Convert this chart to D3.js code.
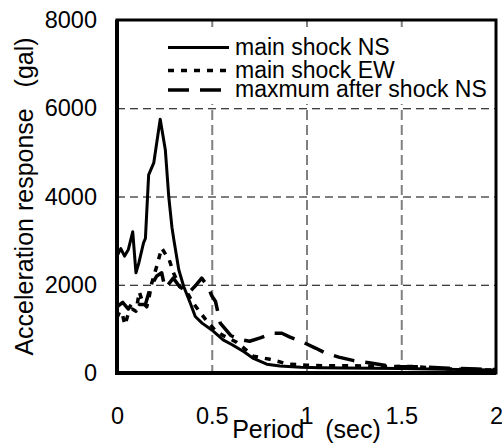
<!DOCTYPE html>
<html>
<head>
<meta charset="utf-8">
<script src="https://cdn.jsdelivr.net/npm/d3@7"></script>
<style>
  body { margin: 0; background: #fff; }
  svg { display: block; font-family: "Liberation Sans", Arial, sans-serif; }
</style>
</head>
<body>
<svg width="502" height="445"></svg>
<script>
// Values
const nsPeriod = [0, 0.02, 0.04, 0.06, 0.083, 0.10, 0.115, 0.14, 0.15, 0.167, 0.194, 0.228, 0.255, 0.273, 0.29, 0.30, 0.326, 0.352, 0.387, 0.413, 0.449, 0.5, 0.56, 0.61, 0.67, 0.72, 0.79, 0.86, 0.97, 1.07, 1.2, 1.35, 1.5, 1.65, 1.8, 2.0]
const nsValue = [2650, 2820, 2650, 2800, 3200, 2270, 2490, 2950, 3050, 4490, 4760, 5750, 5060, 4000, 3300, 3020, 2340, 1960, 1580, 1280, 1130, 975, 750, 635, 480, 330, 200, 160, 130, 120, 115, 110, 100, 90, 80, 70]

const ewPeriod = [0, 0.015, 0.03, 0.042, 0.06, 0.08, 0.10, 0.118, 0.135, 0.157, 0.17, 0.183, 0.209, 0.236, 0.255, 0.276, 0.30, 0.332, 0.368, 0.40, 0.429, 0.47, 0.517, 0.56, 0.63, 0.66, 0.72, 0.807, 0.90, 1.0, 1.1, 1.2, 1.31, 1.41, 1.56, 1.76, 1.93, 2.0]
const ewValue = [1250, 1400, 1300, 1090, 1350, 1450, 1400, 1840, 1600, 1500, 1730, 2030, 2410, 2830, 2700, 2560, 2250, 1960, 1840, 1600, 1430, 1200, 975, 850, 700, 600, 380, 310, 205, 175, 165, 165, 160, 150, 145, 90, 70, 65]

const afterPeriod = [0, 0.03, 0.06, 0.09, 0.12, 0.15, 0.17, 0.19, 0.21, 0.236, 0.253, 0.27, 0.297, 0.33, 0.36, 0.385, 0.41, 0.447, 0.48, 0.50, 0.52, 0.545, 0.6, 0.65, 0.7, 0.76, 0.82, 0.87, 0.91, 0.98, 1.05, 1.1, 1.17, 1.25, 1.33, 1.42, 1.5, 1.6, 1.75, 1.9, 2.0]
const afterValue = [1500, 1600, 1450, 1650, 1550, 1550, 1850, 2050, 2200, 2270, 1930, 2000, 2150, 1960, 1880, 1850, 1960, 2150, 1960, 1750, 1620, 1130, 850, 760, 720, 800, 900, 900, 820, 700, 560, 450, 360, 280, 230, 170, 140, 140, 110, 90, 80]

const xTicks = [0, 0.5, 1, 1.5, 2]
const yTicks = [0, 2000, 4000, 6000, 8000]
const legendLabels = ['main shock NS', 'main shock EW', 'maxmum after shock NS']

const svg = d3.select('svg')
const margin = {top: 20, right: 6, bottom: 72, left: 117}
const width = 502 - margin.left - margin.right
const height = 445 - margin.top - margin.bottom

const x = d3.scaleLinear().domain([0, 2]).range([0, width])
const y = d3.scaleLinear().domain([0, 8000]).range([height, 0])

const group = svg.append('g')
  .attr('transform', 'translate(' + margin.left + ',' + margin.top + ')')

// gridlines
group.append('g')
  .call(d3.axisBottom(x).tickValues(xTicks.slice(1, -1)).tickSize(height).tickFormat(''))
  .call(g => g.select('.domain').remove())
  .selectAll('line')
  .attr('stroke', '#808080')
  .attr('stroke-width', 2)
  .attr('stroke-dasharray', '10,5')

group.append('g')
  .call(d3.axisLeft(y).tickValues(yTicks.slice(1, -1)).tickSize(-width).tickFormat(''))
  .call(g => g.select('.domain').remove())
  .selectAll('line')
  .attr('stroke', '#000')
  .attr('stroke-width', 1.2)
  .attr('stroke-dasharray', '8,5')

// the three spectra
const series = [
  {period: nsPeriod, value: nsValue, dash: null, w: 3},
  {period: ewPeriod, value: ewValue, dash: '6,7', w: 3.5},
  {period: afterPeriod, value: afterValue, dash: '21,11', w: 3.5}
]
const line = d3.line().x(d => x(d[0])).y(d => y(d[1]))

group.selectAll('.spectrum')
  .data(series)
  .enter()
  .append('path')
  .attr('class', 'spectrum')
  .attr('d', s => line(s.period.map((p, i) => [p, s.value[i]])))
  .attr('fill', 'none')
  .attr('stroke', '#000')
  .attr('stroke-width', s => s.w)
  .attr('stroke-dasharray', s => s.dash)
  .attr('stroke-linejoin', 'round')

// legend with white box over the grid
const legend = svg.append('g')
legend.append('rect')
  .attr('x', 160).attr('y', 27)
  .attr('width', 333).attr('height', 77)
  .attr('fill', '#fff')
const rowBase = [54.5, 77.5, 97]
const rows = legend.selectAll('.row')
  .data(series)
  .enter()
  .append('g')
  .attr('class', 'row')
rows.append('line')
  .attr('x1', 168).attr('x2', 229)
  .attr('y1', (d, i) => rowBase[i] - 7).attr('y2', (d, i) => rowBase[i] - 7)
  .attr('stroke', '#000')
  .attr('stroke-width', d => d.w)
  .attr('stroke-dasharray', d => d.dash)
rows.append('text')
  .attr('x', 235)
  .attr('y', (d, i) => rowBase[i])
  .attr('font-size', 23)
  .text((d, i) => legendLabels[i])

// frame
group.append('rect')
  .attr('width', width).attr('height', height)
  .attr('fill', 'none')
  .attr('stroke', '#000')
  .attr('stroke-width', 3)
group.append('path')
  .attr('d', 'M0,0V' + height + 'H' + width)
  .attr('fill', 'none')
  .attr('stroke', '#000')
  .attr('stroke-width', 4)

// tick labels
group.append('g')
  .attr('transform', 'translate(0,' + height + ')')
  .call(d3.axisBottom(x).tickValues(xTicks).tickSize(0).tickPadding(34).tickFormat(d3.format('')))
  .call(g => g.select('.domain').remove())
  .selectAll('text')
  .attr('font-size', 23.5)
  .attr('font-family', null)
  .attr('fill', '#000')

group.append('g')
  .call(d3.axisLeft(y).tickValues(yTicks).tickSize(0).tickPadding(20).tickFormat(d3.format('')))
  .call(g => g.select('.domain').remove())
  .selectAll('text')
  .attr('font-size', 23.5)
  .attr('font-family', null)
  .attr('fill', '#000')

// axis titles
svg.append('text')
  .attr('x', margin.left + width / 2)
  .attr('y', 438)
  .attr('text-anchor', 'middle')
  .attr('font-size', 25)
  .style('white-space', 'pre')
  .text('Period   (sec)')

svg.append('text')
  .attr('transform', 'translate(33,' + (margin.top + height / 2) + ') rotate(-90)')
  .attr('text-anchor', 'middle')
  .attr('font-size', 25)
  .style('white-space', 'pre')
  .text('Acceleration response   (gal)')
</script>
</body>
</html>
